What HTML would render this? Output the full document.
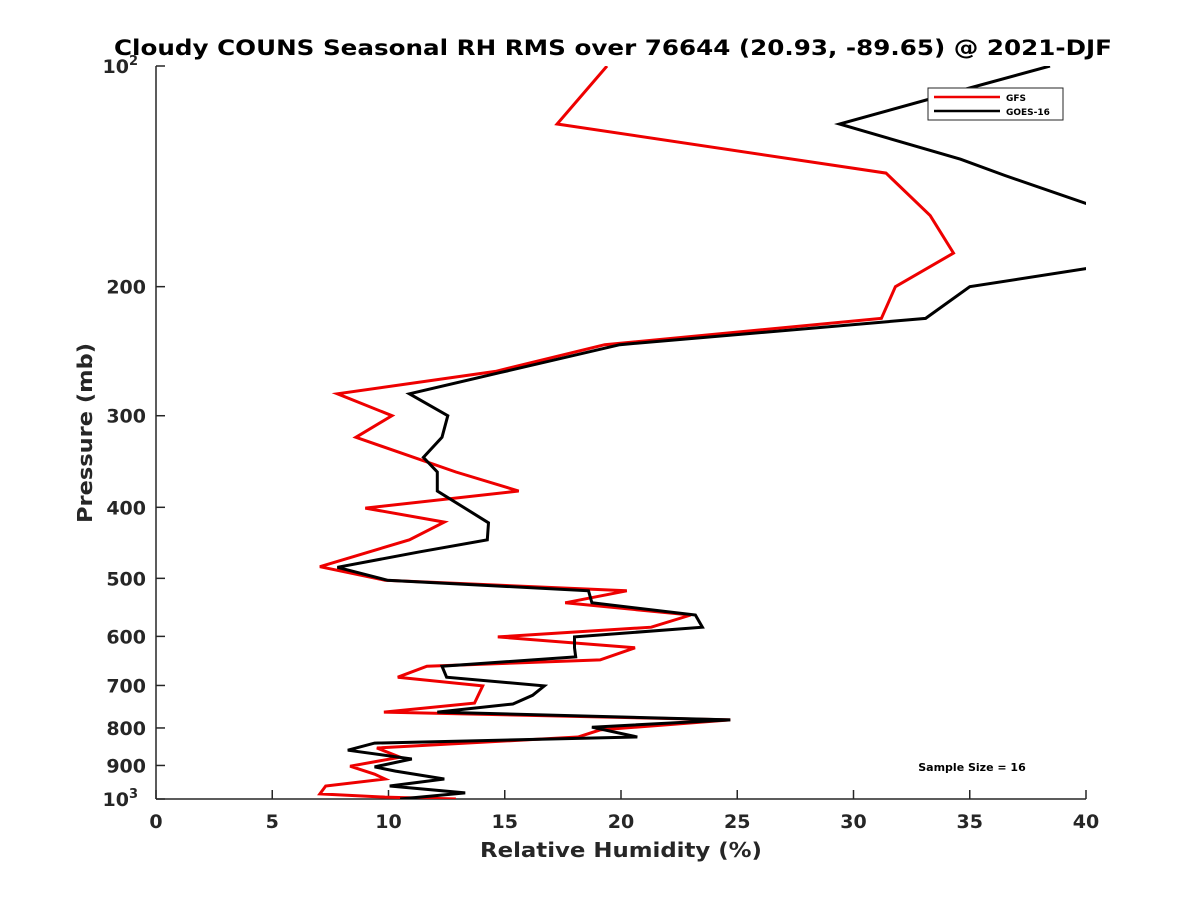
<!DOCTYPE html>
<html><head><meta charset="utf-8"><style>
body{margin:0;background:#fff}
svg text{font-family:"DejaVu Sans","Liberation Sans",sans-serif;font-weight:bold;fill:#262626}
</style></head><body>
<svg width="1200" height="900" viewBox="0 0 1200 900" xmlns="http://www.w3.org/2000/svg">
<rect width="1200" height="900" fill="#fff"/>
<text x="114" y="55" font-size="21" textLength="998" lengthAdjust="spacingAndGlyphs" style="fill:#000">Cloudy COUNS Seasonal RH RMS over 76644 (20.93, -89.65) @ 2021-DJF</text>
<defs><clipPath id="pc"><rect x="156" y="66" width="930" height="733"/></clipPath></defs>
<g id="axes"></g>
<g id="series" clip-path="url(#pc)"></g>
<text x="480" y="857" font-size="20" textLength="282" lengthAdjust="spacingAndGlyphs">Relative Humidity (%)</text>
<text transform="translate(92,523) rotate(-90)" font-size="20" textLength="180" lengthAdjust="spacingAndGlyphs">Pressure (mb)</text>
<g>
<rect x="928" y="88" width="135" height="32" fill="#fff" stroke="#262626" stroke-width="1"/>
<line x1="934" y1="97" x2="1000" y2="97" stroke="#e00" stroke-width="2.5"/>
<text x="1006" y="101" font-size="9" style="fill:#000">GFS</text>
<line x1="934" y1="111" x2="1000" y2="111" stroke="#000" stroke-width="2.5"/>
<text x="1006" y="115" font-size="9" style="fill:#000">GOES-16</text>
</g>
<text x="972" y="771" font-size="11" text-anchor="middle" style="fill:#000">Sample Size = 16</text>
</svg>
<script>
const redP=[100,120,140,160,180,200,221,240,261,280,300,321,358,380,401,419,443,482,503,520,540,561,583,601,622,646,659,682,701,740,761,780,805,823,852,877,902,925,939,960,984,994,1000];
const redV=[19.4,17.25,31.4,33.3,34.3,31.8,31.2,19.3,14.6,7.8,10.15,8.6,12.9,15.6,9.0,12.4,10.9,7.05,9.85,20.25,17.6,23.0,21.3,14.7,20.6,19.1,11.65,10.4,14.05,13.7,9.8,24.7,19.1,18.15,9.5,10.5,8.35,9.4,9.85,7.3,7.05,9.85,12.9];
const blkP=[100,108,120,134,141,154,170,189,200,221,240,262,280,300,321,342,358,380,420,443,460,483,503,520,540,561,583,601,622,640,659,682,701,722,742,761,780,798,823,839,858,882,904,916,939,960,981,1000];
const blkV=[38.45,34.6,29.4,34.6,36.5,40,45,40,35.0,33.1,19.95,14.8,10.9,12.55,12.3,11.5,12.1,12.1,14.3,14.25,11.35,7.8,9.95,18.6,18.75,23.2,23.5,18.0,18.0,18.05,12.3,12.5,16.7,16.2,15.35,12.1,24.7,18.75,20.7,9.4,8.25,11.0,9.4,10.3,12.4,10.05,13.3,10.5];
const xTicks=[0,5,10,15,20,25,30,35,40];
const yTicks=[100,200,300,400,500,600,700,800,900,1000];
const yTickLabels=["10","200","300","400","500","600","700","800","900","10"];
const L=156,R=1086,T=66,B=799;
const xs=v=>L+(v/40)*(R-L);
const ys=p=>T+Math.log10(p/100)*(B-T);
const NS="http://www.w3.org/2000/svg";
const ax=document.getElementById('axes'),se=document.getElementById('series');
function mk(tag,at,par){const e=document.createElementNS(NS,tag);for(const k in at)e.setAttribute(k,at[k]);par.appendChild(e);return e;}
const xl=mk('line',{x1:L,y1:B,x2:R,y2:B,stroke:'#262626','stroke-width':1.5},ax);


const yl=mk('line',{x1:L,y1:T,x2:L,y2:B,stroke:'#262626','stroke-width':1.5},ax);


xTicks.forEach(v=>{const x=xs(v);
mk('line',{x1:x,y1:B,x2:x,y2:B-9,stroke:'#262626','stroke-width':1.5},ax);
const t=mk('text',{x:x,y:B+29,'font-size':19,'text-anchor':'middle'},ax);t.textContent=v;

});
yTicks.forEach((p,i)=>{const y=ys(p);
mk('line',{x1:L,y1:y,x2:L+9,y2:y,stroke:'#262626','stroke-width':1.5},ax);
const sup=(i===0||i===yTicks.length-1);
const t=mk('text',{x:sup?L-27:L-10,y:y+7,'font-size':19,'text-anchor':'end'},ax);t.textContent=yTickLabels[i];


if(sup){const s=mk('text',{x:L-27,y:y-1,'font-size':13,'text-anchor':'start'},ax);s.textContent=(i===0?'2':'3');

}});
function line(P,V,c,name){const pts=P.map((p,i)=>xs(V[i]).toFixed(1)+','+ys(p).toFixed(1)).join(' ');
const e=mk('polyline',{points:pts,fill:'none',stroke:c,'stroke-width':3,'stroke-linejoin':'miter'},se);

}
line(redP,redV,'#e00','gfs-line');
line(blkP,blkV,'#000','goes16-line');
</script>
</body></html>
